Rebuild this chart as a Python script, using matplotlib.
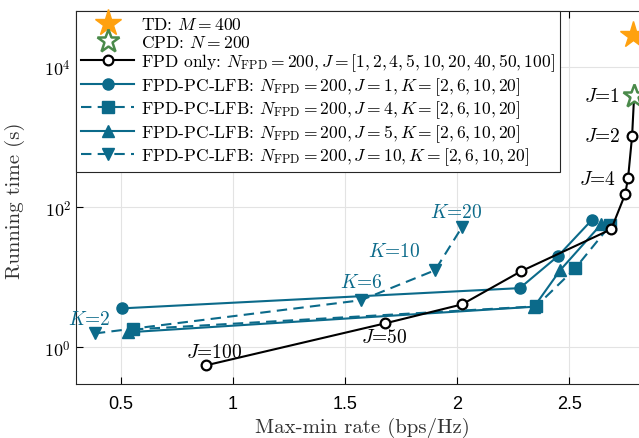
import matplotlib
matplotlib.use('Agg')
import matplotlib.pyplot as plt
import numpy as np

plt.rcParams['font.family'] = 'cmr10'
plt.rcParams['mathtext.fontset'] = 'cm'
plt.rcParams['axes.unicode_minus'] = False
plt.rcParams['axes.formatter.use_mathtext'] = True

teal = '#0b6a8a'

# TD / CPD single points
td_x, td_y = [2.786], [28600]
cpd_x, cpd_y = [2.79], [3850]

# FPD only, J = [1,2,4,5,10,20,40,50,100]
fpd_J = [1, 2, 4, 5, 10, 20, 40, 50, 100]
fpd_x = [2.79, 2.781, 2.763, 2.75, 2.688, 2.286, 2.022, 1.679, 0.879]
fpd_y = [3850, 1030, 260, 153, 48.5, 12.2, 4.1, 2.2, 0.553]

# FPD-PC-LFB, K = [2,6,10,20]
K = [2, 6, 10, 20]
j1_x = [0.505, 2.28, 2.45, 2.60]
j1_y = [3.6, 7.0, 20, 65]
j4_x = [0.554, 2.353, 2.527, 2.683]
j4_y = [1.8, 3.85, 13.4, 55]
j5_x = [0.531, 2.344, 2.46, 2.643]
j5_y = [1.64, 3.8, 12.6, 57]
j10_x = [0.384, 1.571, 1.902, 2.022]
j10_y = [1.58, 4.7, 12.6, 52]

fig = plt.figure(figsize=(6.39, 4.39), dpi=100)
ax = fig.add_axes([0.119, 0.123, 0.947, 0.8497])

h_td, = ax.plot(td_x, td_y, linestyle='none', marker='*', ms=20, color='#ffa10f', zorder=6)
h_cpd, = ax.plot(cpd_x, cpd_y, linestyle='none', marker='*', ms=17, mfc='white',
                 mec='#4a8a4a', mew=1.8, zorder=6)
h_fpd, = ax.plot(fpd_x, fpd_y, '-o', color='black', lw=1.5, ms=7, mfc='white', mew=1.6, zorder=4)
h1, = ax.plot(j1_x, j1_y, '-o', color=teal, lw=1.5, ms=8)
h4, = ax.plot(j4_x, j4_y, '--s', color=teal, lw=1.5, ms=8, dashes=(5, 3))
h5, = ax.plot(j5_x, j5_y, '-^', color=teal, lw=1.5, ms=9)
h10, = ax.plot(j10_x, j10_y, '--v', color=teal, lw=1.5, ms=9, dashes=(5, 3))

ax.set_yscale('log')
ax.set_xlim(0.3, 3.0)
ax.set_ylim(0.3, 6.3e4)
ax.set_xticks([0.5, 1, 1.5, 2, 2.5])
ax.set_xticklabels(['0.5', '1', '1.5', '2', '2.5'], family='Liberation Sans')
ax.set_yticks([1, 100, 10000])
ax.set_yticklabels([r'$\mathsf{10}^{\mathsf{0}}$', r'$\mathsf{10}^{\mathsf{2}}$',
                    r'$\mathsf{10}^{\mathsf{4}}$'])
ax.yaxis.set_minor_locator(matplotlib.ticker.NullLocator())
ax.tick_params(direction='in', top=True, right=True, labelsize=13, length=5, width=0.8)
ax.tick_params(axis='x', pad=8)
ax.grid(True, color='#e3e3e3', lw=0.8)
ax.set_axisbelow(True)
for s in ax.spines.values():
    s.set_linewidth(0.8)
    s.set_color('#262626')

ax.set_xlabel('Max-min rate (bps/Hz)', fontsize=15, color='#333333', va='center')
ax.set_ylabel('Running time (s)', fontsize=15, color='#333333', va='center')
ax.xaxis.set_label_coords(0.4735, -0.115)
ax.yaxis.set_label_coords(-0.101, 0.493)

# annotations
for t, x, y in [('1', 2.727, 3850), ('2', 2.73, 1030), ('4', 2.71, 251)]:
    ax.text(x, y, '$J$=' + t, ha='right', va='center', fontsize=14)
ax.text(0.915, 0.85, '$J$=100', ha='center', va='center', fontsize=14)
ax.text(1.674, 1.39, '$J$=50', ha='center', va='center', fontsize=14)
for t, x, y in [('2', 0.357, 2.5), ('6', 1.571, 8.5), ('10', 1.719, 23.5), ('20', 1.996, 85)]:
    ax.text(x, y, '$K$=' + t, ha='center', va='center', fontsize=14, color=teal)

labels = ['TD: $M=400$', 'CPD: $N=200$',
          r'FPD only: $N_{\mathrm{FPD}}=200, J=[1,2,4,5,10,20,40,50,100]$',
          r'FPD-PC-LFB: $N_{\mathrm{FPD}}=200, J=1, K=[2,6,10,20]$',
          r'FPD-PC-LFB: $N_{\mathrm{FPD}}=200, J=4, K=[2,6,10,20]$',
          r'FPD-PC-LFB: $N_{\mathrm{FPD}}=200, J=5, K=[2,6,10,20]$',
          r'FPD-PC-LFB: $N_{\mathrm{FPD}}=200, J=10, K=[2,6,10,20]$']
leg = ax.legend([h_td, h_cpd, h_fpd, h1, h4, h5, h10], labels, loc='upper left',
                bbox_to_anchor=(0, 1), fontsize=12.6, handlelength=3.0, borderaxespad=0,
                fancybox=False, edgecolor='#262626', framealpha=1, labelspacing=0.1,
                borderpad=0.3, handletextpad=0.4)
leg.get_frame().set_linewidth(0.8)

fig.savefig('out.png', dpi=100)
